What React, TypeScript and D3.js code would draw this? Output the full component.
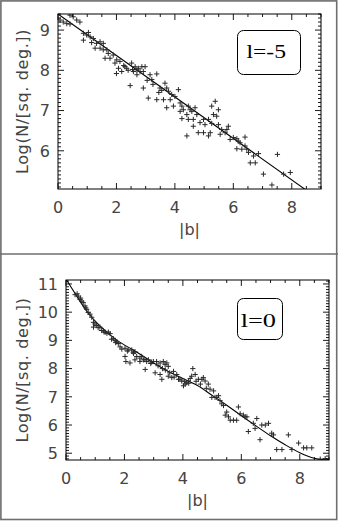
import React from "react";
import * as d3 from "d3";

// ---------- data ----------
const xTicks = [0, 2, 4, 6, 8];
const topYTicks = [6, 7, 8, 9];
const bottomYTicks = [5, 6, 7, 8, 9, 10, 11];
const xLabel = "|b|";
const yLabel = "Log(N/[sq. deg.])";
const topTag = "l=-5";
const bottomTag = "l=0";

const topPoints: [number, number][] = [
  [0.07, 9.25], [0.18, 9.2], [0.3, 9.16], [0.41, 9.15], [0.52, 9.33], [0.64, 9.25], [0.75, 9.2], [0.41, 9.37],
  [0.87, 8.92], [0.98, 8.88], [1.04, 8.94], [1.1, 8.83], [0.87, 8.75], [1.21, 8.79], [1.15, 8.69], [1.32, 8.67],
  [1.44, 8.71], [1.55, 8.67], [1.27, 8.55], [1.44, 8.55], [1.55, 8.51], [1.67, 8.51], [1.72, 8.42], [1.61, 8.3],
  [1.78, 8.3], [1.89, 8.38], [2.01, 8.26], [2.12, 8.22], [2.07, 8.05], [2.18, 7.97], [2.29, 8.09], [2.35, 8.05],
  [2.52, 8.18], [2.64, 8.09], [2.7, 8.01], [2.75, 8.05], [2.87, 8.09], [2.98, 8.09], [2.81, 7.97], [2.92, 7.97],
  [2.58, 7.97], [2.47, 7.62], [2.7, 7.89], [3.15, 7.89], [3.38, 7.91], [3.21, 7.77], [2.92, 7.56], [3.09, 7.31],
  [3.38, 7.27], [3.49, 7.56], [3.66, 7.68], [3.72, 7.56], [3.78, 7.48], [3.89, 7.4], [4.0, 7.35], [4.12, 7.52],
  [3.84, 7.27], [3.61, 7.27], [3.72, 7.07], [3.95, 7.11], [4.18, 7.19], [4.29, 7.02], [4.41, 6.9], [4.52, 7.02],
  [4.69, 7.07], [4.75, 6.9], [4.63, 6.78], [4.46, 6.78], [4.24, 7.11], [4.46, 7.11], [4.18, 6.98], [4.24, 6.8],
  [4.58, 6.98], [4.86, 6.7], [4.98, 6.78], [5.03, 6.65], [5.15, 6.78], [5.26, 6.68], [5.38, 7.23], [5.26, 7.11],
  [5.49, 7.02], [5.32, 6.9], [5.43, 6.86], [4.63, 6.61], [4.8, 6.45], [4.98, 6.45], [5.21, 6.45], [5.15, 6.37],
  [4.41, 6.37], [5.49, 6.65], [5.55, 6.41], [5.72, 6.45], [5.83, 6.61], [5.6, 6.53], [5.78, 6.53], [5.89, 6.28],
  [6.0, 6.33], [6.12, 6.3], [6.17, 6.24], [6.12, 6.05], [6.29, 6.04], [6.23, 6.2], [6.4, 6.34], [6.4, 6.12],
  [6.46, 6.04], [6.52, 5.96], [6.69, 5.87], [6.86, 5.93], [6.58, 5.7], [6.75, 5.7], [7.03, 5.42], [7.51, 5.91],
  [7.72, 5.42], [7.95, 5.46], [7.32, 5.15], [1.95, 8.18], [2.25, 8.12], [2.4, 8.0], [2.55, 8.02], [3.05, 7.75],
  [3.25, 7.65], [3.45, 7.45], [3.55, 7.5], [2.0, 7.92],
];

const bottomPoints: [number, number][] = [
  [0.31, 10.62], [0.42, 10.57], [0.48, 10.45], [0.54, 10.39], [0.59, 10.34], [0.65, 10.22], [0.71, 10.1], [0.76, 9.99],
  [0.82, 9.93], [0.88, 9.82], [0.94, 9.64], [0.99, 9.58], [0.94, 9.47], [1.05, 9.53], [1.16, 9.47], [1.22, 9.35],
  [1.28, 9.35], [1.34, 9.29], [1.45, 9.29], [1.51, 9.24], [1.62, 9.06], [1.68, 9.0], [1.74, 8.95], [1.56, 9.04],
  [1.79, 8.89], [1.85, 8.77], [1.91, 8.69], [2.02, 8.72], [2.13, 8.66], [2.25, 8.66], [2.31, 8.54], [2.36, 8.6],
  [2.42, 8.43], [2.53, 8.37], [2.59, 8.43], [2.65, 8.31], [2.76, 8.25], [2.82, 8.31], [2.93, 8.23], [2.99, 8.25],
  [3.1, 8.25], [3.22, 8.2], [3.33, 8.25], [3.39, 8.14], [3.45, 8.2], [3.5, 8.08], [2.02, 8.43], [2.05, 8.25],
  [2.19, 8.2], [2.36, 8.31], [2.53, 8.25], [2.71, 7.97], [3.05, 7.85], [3.22, 7.79], [3.28, 7.62], [3.5, 7.73],
  [3.62, 7.68], [3.68, 7.9], [3.79, 7.79], [3.85, 7.62], [3.96, 7.56], [4.02, 7.39], [4.08, 7.45], [4.13, 7.5],
  [4.19, 7.56], [4.3, 7.73], [4.34, 8.0], [4.42, 7.79], [4.53, 7.62], [4.65, 7.62], [4.7, 7.68], [4.76, 7.56],
  [4.87, 7.45], [4.93, 7.27], [5.05, 7.21], [4.99, 6.98], [5.1, 6.98], [5.16, 6.98], [5.22, 7.04], [5.27, 6.87],
  [5.33, 6.75], [5.39, 6.69], [5.45, 6.35], [5.5, 6.46], [5.56, 6.29], [5.62, 6.17], [5.73, 6.17], [5.84, 6.17],
  [5.9, 6.64], [5.96, 6.4], [6.07, 6.35], [6.13, 6.29], [6.19, 6.29], [6.24, 5.77], [6.41, 6.06], [6.47, 5.88],
  [6.53, 6.23], [6.64, 5.48], [6.7, 6.0], [6.82, 6.0], [6.93, 6.06], [7.04, 5.71], [7.1, 5.65], [7.21, 5.13],
  [7.39, 5.13], [7.61, 5.65], [7.73, 5.13], [7.96, 5.36], [8.13, 5.19], [8.24, 5.19], [8.41, 5.19], [8.7, 4.79],
  [8.87, 4.81], [0.38, 10.65], [0.5, 10.5], [0.68, 10.15], [1.1, 9.45], [1.3, 9.3], [1.4, 9.25], [1.7, 8.92],
  [2.1, 8.62], [2.3, 8.58], [2.7, 8.32], [2.9, 8.18], [3.15, 8.1], [3.3, 8.0], [3.4, 7.95], [3.55, 7.85],
  [3.7, 7.7], [3.9, 7.62], [4.05, 7.55], [4.2, 7.48], [4.25, 7.65], [4.45, 7.55], [4.6, 7.45], [4.8, 7.3],
];

// fitted curves
const topFitB = [0, 9];
const topFitLogN = [9.4, 4.76];
const bottomFitB = [0.02, 0.3, 0.7, 1.15, 1.75, 2.4, 3.0, 3.5, 4.0, 4.5, 5.0, 5.5, 6.0, 6.5, 7.0, 7.5, 8.0, 8.5, 8.85, 9.0];
const bottomFitLogN = [11.14, 10.68, 10.05, 9.52, 9.0, 8.6, 8.2, 7.9, 7.65, 7.4, 7.05, 6.7, 6.33, 5.97, 5.62, 5.3, 5.02, 4.82, 4.77, 4.78];

// ---------- layout ----------
type PanelProps = {
  id: string;
  left: number; right: number; top: number; bottom: number;
  yDomain: [number, number];
  yTicks: number[];
  points: [number, number][];
  fitX: number[]; fitY: number[];
  tag: string;
  tagBox: { x: number; y: number; w: number; h: number };
  tagTextX: number; tagTextY: number; tagTextW: number;
};

const SANS = "'DejaVu Sans', sans-serif";
const LABEL_COLOR = "#444";

function Panel(p: PanelProps) {
  const x = d3.scaleLinear().domain([0, 9]).range([p.left, p.right]);
  const y = d3.scaleLinear().domain(p.yDomain).range([p.bottom, p.top]);
  const xMinor = d3.range(0, 9.001, 0.5);
  const yMinor = d3.range(Math.ceil(p.yDomain[0] * 10), Math.floor(p.yDomain[1] * 10) + 1).map((v) => v / 10);
  const MAJ = 6, MIN = 3;
  const line = d3.line<number>().x((d, i) => x(p.fitX[i])).y((d, i) => y(p.fitY[i])).curve(d3.curveCatmullRom);
  const isMajorY = (v: number) => Math.abs(v - Math.round(v)) < 1e-6;
  const isMajorX = (v: number) => Math.abs(v / 2 - Math.round(v / 2)) < 1e-6;
  const midX = (p.left + p.right) / 2;
  const midY = (p.top + p.bottom) / 2;
  return (
    <g>
      <defs>
        <clipPath id={p.id + "-clip"}>
          <rect x={p.left} y={p.top} width={p.right - p.left} height={p.bottom - p.top} />
        </clipPath>
      </defs>
      <g clipPath={`url(#${p.id}-clip)`}>
        <path d={line(p.fitX) || ""} fill="none" stroke="#000" strokeWidth={1.1} />
        {p.points.map(([bx, ly], i) => {
          const cx = x(bx), cy = y(ly);
          return (
            <path key={i} d={`M${cx - 2.6},${cy}H${cx + 2.6}M${cx},${cy - 2.6}V${cy + 2.6}`} stroke="#2a2a2a" strokeWidth={1} />
          );
        })}
      </g>
      <rect x={p.left} y={p.top} width={p.right - p.left} height={p.bottom - p.top} fill="none" stroke="#000" strokeWidth={1} />
      {xMinor.map((v, i) => {
        const len = isMajorX(v) ? MAJ : MIN;
        const px = x(v);
        return (
          <g key={"xt" + i}>
            <line x1={px} x2={px} y1={p.bottom} y2={p.bottom - len} stroke="#000" strokeWidth={0.9} />
            <line x1={px} x2={px} y1={p.top} y2={p.top + len} stroke="#000" strokeWidth={0.9} />
          </g>
        );
      })}
      {yMinor.map((v, i) => {
        const len = isMajorY(v) ? MAJ : MIN;
        const py = y(v);
        return (
          <g key={"yt" + i}>
            <line x1={p.left} x2={p.left + len} y1={py} y2={py} stroke="#000" strokeWidth={0.9} />
            <line x1={p.right} x2={p.right - len} y1={py} y2={py} stroke="#000" strokeWidth={0.9} />
          </g>
        );
      })}
      {xTicks.map((v) => (
        <text key={"xl" + v} x={x(v)} y={p.bottom + 24} textAnchor="middle" fontFamily={SANS} fontSize={16} fill={LABEL_COLOR}>
          {v}
        </text>
      ))}
      {p.yTicks.map((v) => (
        <text key={"yl" + v} x={p.left - 8} y={y(v)} dy="0.36em" textAnchor="end" fontFamily={SANS} fontSize={16} fill={LABEL_COLOR}>
          {v}
        </text>
      ))}
      <text x={midX} y={p.bottom + 46} textAnchor="middle" fontFamily={SANS} fontSize={16} fill={LABEL_COLOR}>
        {xLabel}
      </text>
      <text
        transform={`translate(28,${midY}) rotate(-90)`}
        textAnchor="middle"
        fontFamily={SANS}
        fontSize={16}
        letterSpacing={0.6}
        fill={LABEL_COLOR}
      >
        {yLabel}
      </text>
      <rect x={p.tagBox.x} y={p.tagBox.y} width={p.tagBox.w} height={p.tagBox.h} rx={6} ry={6} fill="#fff" stroke="#000" strokeWidth={1} />
      <text
        x={p.tagTextX}
        y={p.tagTextY}
        fontFamily="'Liberation Serif', 'Times New Roman', serif"
        fontSize={19}
        textLength={p.tagTextW}
        lengthAdjust="spacingAndGlyphs"
        fill="#000"
      >
        {p.tag}
      </text>
    </g>
  );
}

export default function App() {
  return (
    <svg width={338} height={521} style={{ position: "absolute", left: 0, top: 0, background: "#fff" }}>
      <rect x={0} y={0} width={338} height={521} fill="#fff" />
      <Panel
        id="top"
        left={58} right={321} top={14} bottom={189}
        yDomain={[5.05, 9.4]}
        yTicks={topYTicks}
        points={topPoints}
        fitX={topFitB} fitY={topFitLogN}
        tag={topTag}
        tagBox={{ x: 237.5, y: 30.5, w: 63, h: 44 }}
        tagTextX={246.5} tagTextY={57.5} tagTextW={39.5}
      />
      <Panel
        id="bot"
        left={66} right={329} top={280} bottom={460}
        yDomain={[4.76, 11.14]}
        yTicks={bottomYTicks}
        points={bottomPoints}
        fitX={bottomFitB} fitY={bottomFitLogN}
        tag={bottomTag}
        tagBox={{ x: 237.5, y: 298.5, w: 45, h: 41 }}
        tagTextX={240.7} tagTextY={326.7} tagTextW={35.3}
      />
      <rect x={0.9} y={0.9} width={335.8} height={518.6} fill="none" stroke="#6e6e6e" strokeWidth={1.6} />
      <line x1={0} x2={338} y1={254} y2={254} stroke="#6e6e6e" strokeWidth={1.6} />
    </svg>
  );
}
